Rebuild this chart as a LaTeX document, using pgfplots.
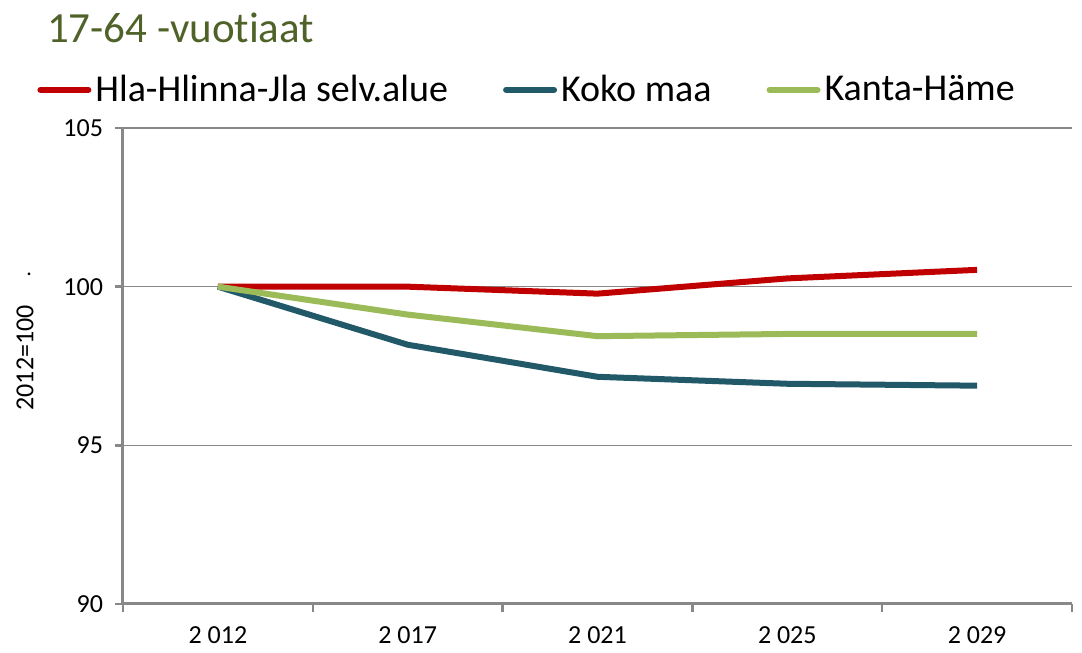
\documentclass[border=0pt]{standalone}
\usepackage{fontspec}
\setmainfont{Carlito}[Ligatures={NoCommon}]
\usepackage{pgfplots}
\pgfplotsset{compat=1.18}

\definecolor{cred}{HTML}{C00000}
\definecolor{cblue}{HTML}{215968}
\definecolor{cgreen}{HTML}{9BBB59}
\definecolor{ctitle}{HTML}{4F6228}
\definecolor{caxis}{HTML}{888888}

\begin{document}
\begin{tikzpicture}
% fixed page size (1px = 0.5pt)
\path[use as bounding box] (-61.5pt,-24.5pt) rectangle (479.5pt,302pt);
\begin{axis}[
    at={(0,0)}, anchor=south west,
    width=474.5pt, height=238pt,
    scale only axis,
    xmin=-0.5, xmax=4.5,
    ymin=90, ymax=105,
    xtick={0,1,2,3,4},
    xticklabels={2 012,2 017,2 021,2 025,2 029},
    minor xtick={-0.5,0.5,1.5,2.5,3.5,4.5},
    ytick={90,95,100,105},
    major x tick style={draw=none},
    tick align=outside,
    major tick length=4pt,
    minor tick length=4pt,
    tick style={draw=caxis, line width=1.2pt},
    ymajorgrids,
    grid style={draw=caxis, line width=0.8pt},
    axis x line*=bottom,
    axis y line*=left,
    axis line style={draw=caxis, line width=1.5pt, -},
    every tick label/.append style={font=\fontsize{13}{15}\selectfont, text=black},
    xticklabel style={yshift=-4pt},
    yticklabel style={xshift=-2.5pt},
    /pgf/number format/assume math mode=true,
    ylabel={2012=100},
    every axis y label/.append style={font=\fontsize{13}{15}\selectfont},
    ylabel style={at={(axis description cs:-0.1033,0.517)}, anchor=center},
    legend columns=3,
    legend style={
        at={(axis description cs:-0.0906,1.08)}, anchor=west,
        draw=none, fill=none, inner sep=0pt,
        font=\fontsize{19}{22}\selectfont,
        /tikz/every even column/.append style={column sep=25.5pt},
        legend cell align=left,
    },
    legend image code/.code={
        \draw[#1, line cap=round] (0pt,0pt) -- (24pt,0pt);
    },
    every axis plot/.append style={line width=3pt, line join=round},
    clip=false,
]
\addplot[cred] coordinates {(0,100) (1,100) (2,99.78) (3,100.26) (4,100.53)};
\addlegendentry{Hla-Hlinna-Jla selv.alue}
\addplot[cblue] coordinates {(0,100) (1,98.17) (2,97.16) (3,96.94) (4,96.88)};
\addlegendentry{Koko maa}
\addplot[cgreen] coordinates {(0,100) (1,99.12) (2,98.44) (3,98.51) (4,98.51)};
\addlegendentry{Kanta-Häme}
\node[font=\fontsize{11}{13}\selectfont, anchor=base] at (axis description cs:-0.099,0.69) {.};
\node[font=\fontsize{21.5}{24}\selectfont, text=ctitle, anchor=base west] at (axis description cs:-0.0874,1.18) {17-64 -vuotiaat};
\end{axis}
\end{tikzpicture}
\end{document}
